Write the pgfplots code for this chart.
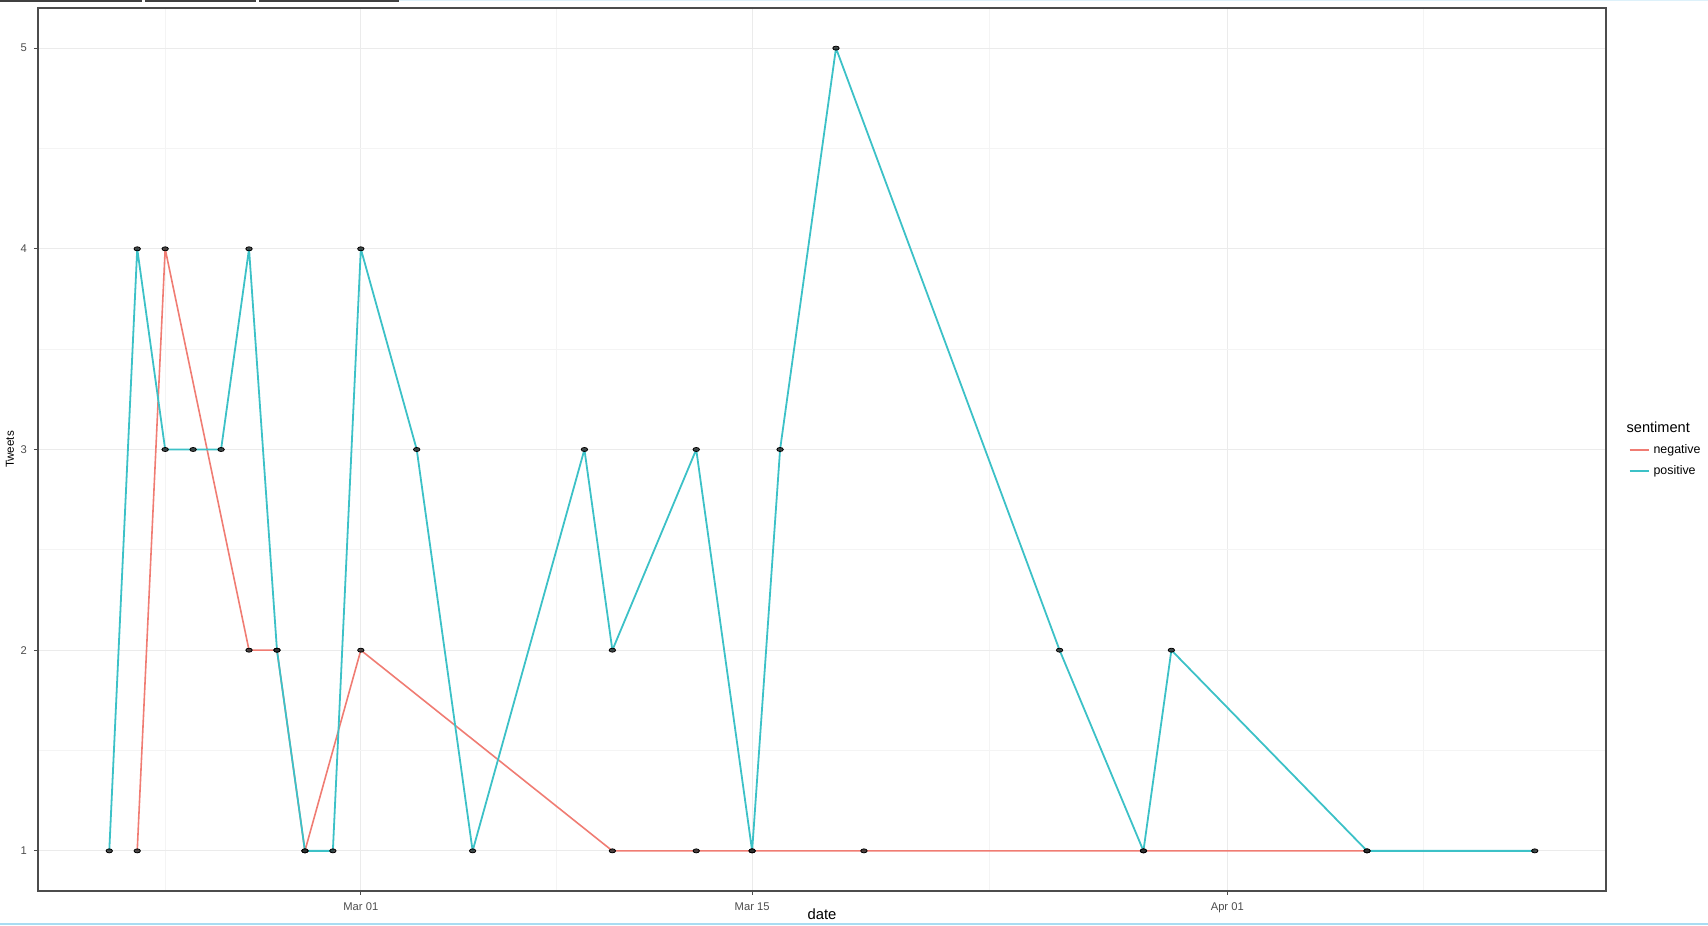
\documentclass[border=0pt]{standalone}
\usepackage{pgfplots}
\pgfplotsset{compat=1.18}
\usepackage{pgfplotstable}
\usepackage{fontspec}
\setmainfont{Liberation Sans}
\definecolor{negc}{HTML}{F07C73}
\definecolor{posc}{HTML}{3CC1C7}
\definecolor{gridmaj}{HTML}{EBEBEB}
\definecolor{gridmin}{HTML}{F4F4F4}
\definecolor{tickc}{HTML}{4D4D4D}
\definecolor{dotc}{HTML}{2E2E2E}
\definecolor{scrblue}{HTML}{A9DCF2}

% day offsets relative to Mar 01
\pgfplotstableread{
x y
-8 1
-7 4
-4 2
-3 2
-2 1
0 2
9 1
12 1
14 1
18 1
28 1
36 1
}\negtab

\pgfplotstableread{
x y
-9 1
-8 4
-7 3
-6 3
-5 3
-4 4
-3 2
-2 1
-1 1
0 4
2 3
4 1
8 3
9 2
12 3
14 1
15 3
17 5
25 2
28 1
29 2
36 1
42 1
}\postab

\begin{document}
\begin{tikzpicture}
\useasboundingbox (0,0) rectangle (854pt,463pt);
% screenshot edge artefacts
\fill[black!75] (0,462pt) rectangle (71pt,463pt);
\fill[black!75] (72.5pt,462pt) rectangle (128pt,463pt);
\fill[black!75] (129.5pt,462pt) rectangle (199.5pt,463pt);
\fill[scrblue!40] (199.5pt,462.3pt) rectangle (854pt,463pt);
\fill[scrblue] (0,0.3pt) rectangle (854pt,1.6pt);
\begin{axis}[
  at={(19pt,17.5pt)}, anchor=south west,
  scale only axis, width=784pt, height=441.5pt,
  xmin=-11.55, xmax=44.55, ymin=0.8, ymax=5.2,
  xtick={0,14,31},
  xticklabels={Mar 01, Mar 15, Apr 01},
  minor xtick={-7,7,22.5,38},
  ytick={1,2,3,4,5}, minor ytick={1.5,2.5,3.5,4.5},
  /pgf/number format/assume math mode=true,
  grid=both,
  major grid style={gridmaj, line width=0.55pt},
  minor grid style={gridmin, line width=0.35pt},
  axis line style={black!70, line width=0.6pt},
  tick align=outside, tick pos=left,
  major tick length=2pt, minor tick length=0pt,
  tick style={black!70, line width=0.5pt},
  ticklabel style={font=\fontsize{5.6}{6.5}\selectfont, text=tickc},
  xticklabel style={yshift=-0.5pt},
  xlabel={date}, ylabel={Tweets},
  xlabel style={font=\fontsize{7.4}{8.5}\selectfont, at={(axis description cs:0.5,-0.026)}, anchor=center},
  ylabel style={font=\fontsize{5.8}{6.5}\selectfont, at={(axis description cs:-0.0179,0.5)}, anchor=center},
  legend style={at={(axis description cs:1.013,0.5)}, anchor=west, draw=none, fill=none,
    font=\fontsize{6.2}{7}\selectfont, row sep=0.5pt, inner sep=1pt},
  legend cell align=left,
  legend image code/.code={\draw[#1] (0pt,0pt) -- (9.5pt,0pt);},
]
\addlegendimage{empty legend}
\addlegendentry{\hspace*{-13.5pt}\fontsize{7.3}{8}\selectfont sentiment}
\addplot[negc, line width=0.8pt, line join=round] table[x=x,y=y] {\negtab};
\addlegendentry{negative}
\addplot[posc, line width=0.9pt, line join=round] table[x=x,y=y] {\postab};
\addlegendentry{positive}
\addplot[only marks, mark=*, mark size=1.0pt, mark options={fill=dotc, draw=none, fill opacity=0.85, xscale=1.6}, forget plot] table[x=x,y=y] {\negtab};
\addplot[only marks, mark=*, mark size=1.0pt, mark options={fill=dotc, draw=none, fill opacity=0.85, xscale=1.6}, forget plot] table[x=x,y=y] {\postab};
\end{axis}
\end{tikzpicture}
\end{document}
